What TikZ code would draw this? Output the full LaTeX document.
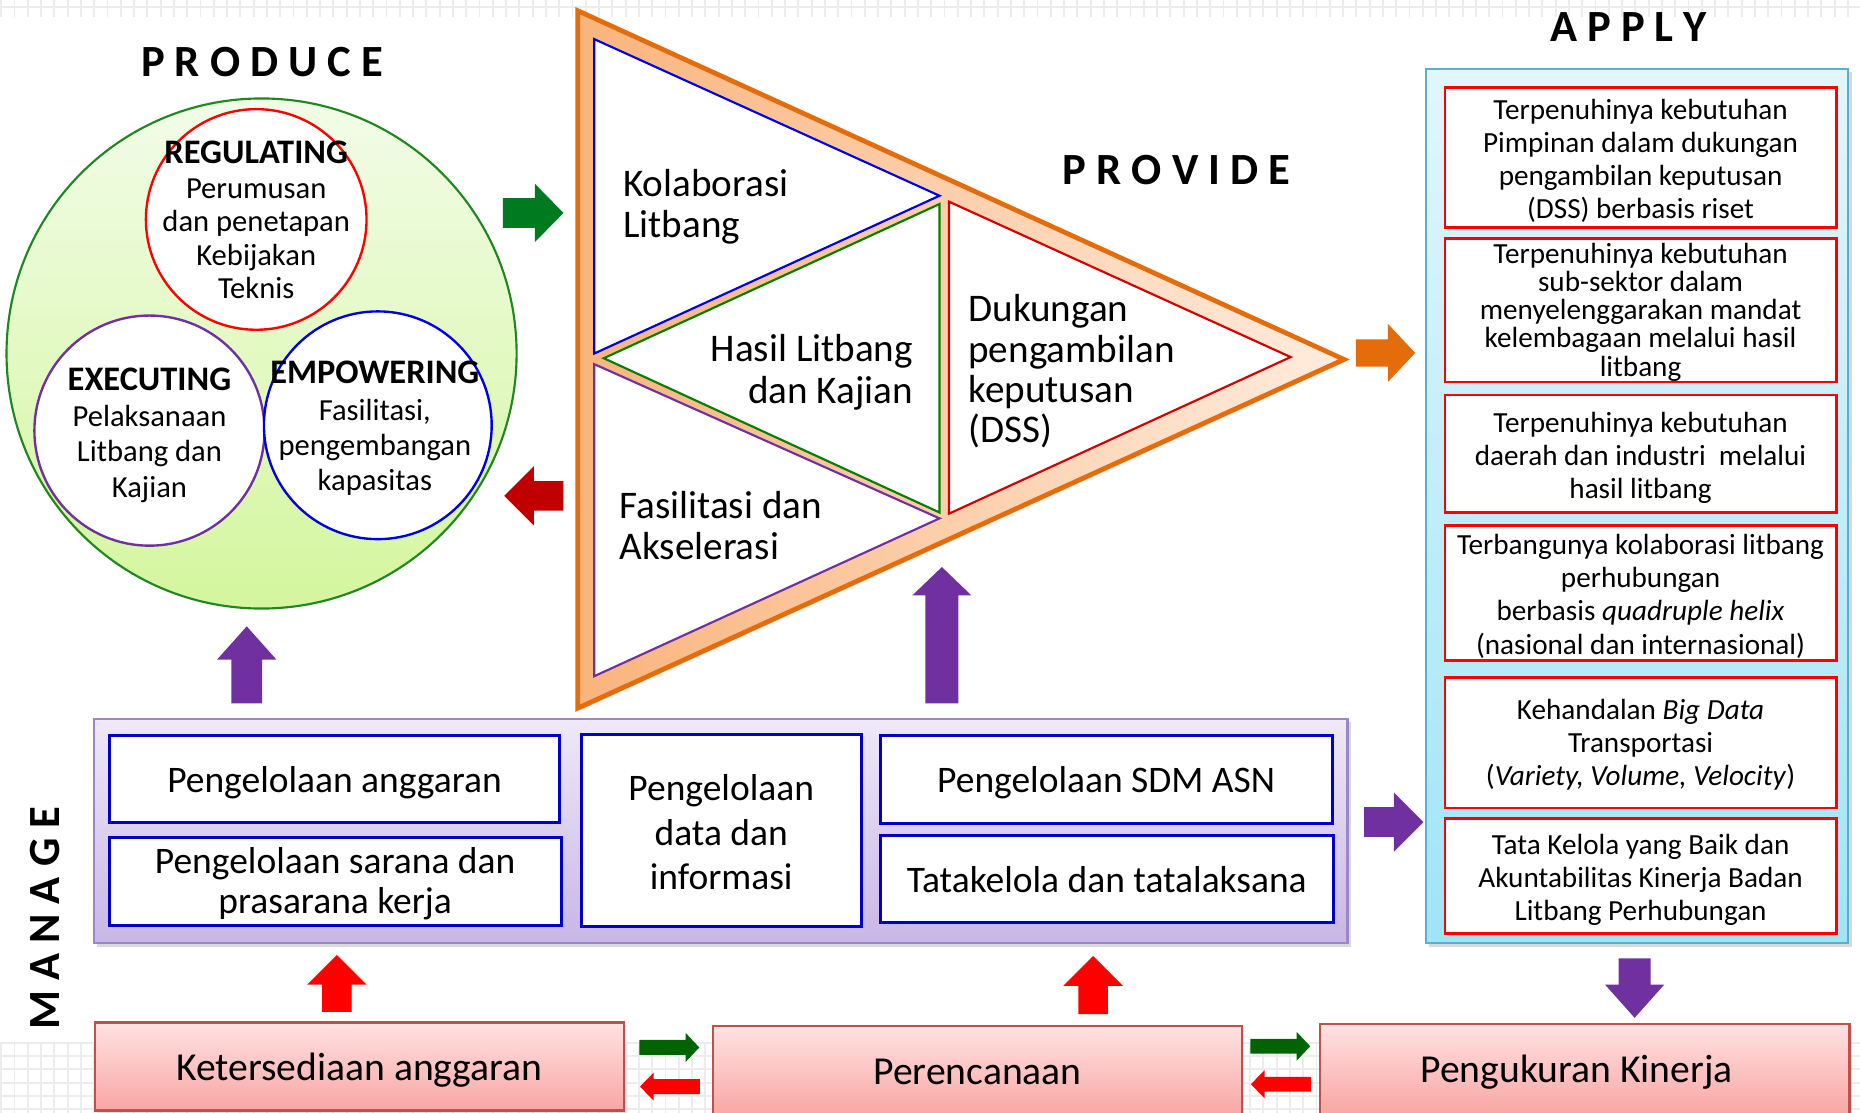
\documentclass[tikz,border=0pt]{standalone}
\usepackage{fontspec}
\setmainfont{Carlito}
\usetikzlibrary{shadows,calc}
\definecolor{cgreen}{RGB}{0,122,30}
\definecolor{dkgreen}{RGB}{0,100,0}
\definecolor{dkred}{RGB}{192,0,0}
\definecolor{orng}{RGB}{228,108,10}
\definecolor{purp}{RGB}{112,48,160}
\definecolor{circgreen}{RGB}{30,135,30}
\definecolor{circtop}{RGB}{242,252,232}
\definecolor{circbot}{RGB}{212,246,158}
\definecolor{gridc}{RGB}{236,236,236}
\definecolor{trileft}{RGB}{249,180,124}
\definecolor{triright}{RGB}{255,236,222}
\definecolor{tblue}{RGB}{0,0,225}
\definecolor{tgreen}{RGB}{0,128,0}
\definecolor{tred}{RGB}{210,0,0}
\definecolor{applytop}{RGB}{226,246,252}
\definecolor{applybot}{RGB}{160,228,247}
\definecolor{applyborder}{RGB}{90,175,205}
\definecolor{mantop}{RGB}{239,233,248}
\definecolor{manbot}{RGB}{200,182,230}
\definecolor{manborder}{RGB}{155,135,196}
\definecolor{pinktop}{RGB}{255,226,226}
\definecolor{pinkbot}{RGB}{248,166,164}
\definecolor{pinkborder}{RGB}{192,80,77}
\definecolor{boxblue}{RGB}{0,0,204}
\newcommand{\BArrow}[8]{\fill[#1, shift={(#2,#3)}, rotate=#4] (0,-#6) -- ({#5-#8},-#6) -- ({#5-#8},-#7) -- (#5,0) -- ({#5-#8},#7) -- ({#5-#8},#6) -- (0,#6) -- cycle;}
\newcommand{\circheadfont}{\fontsize{14.5}{15}\selectfont\bfseries}
\tikzset{
  hdr/.style={font=\fontsize{18.8}{20}\selectfont\bfseries, inner sep=0pt},
  circtext/.style={inner sep=0pt, align=center, font=\fontsize{12.9}{14}\selectfont},
  tritext/.style={inner sep=0pt, font=\fontsize{16.5}{17.5}\selectfont},
  redbox/.style={draw=red, line width=1.1pt, fill=white, minimum width=165pt, inner sep=0pt},
  redtext/.style={inner sep=0pt, align=center, font=\fontsize{12.3}{14}\selectfont},
  bluebox/.style={draw=boxblue, line width=1.3pt, fill=white, inner sep=0pt},
  bluetext/.style={inner sep=0pt, align=center, font=\fontsize{15.8}{17}\selectfont},
  pinkbox/.style={draw=pinkborder, line width=1pt, top color=pinktop, bottom color=pinkbot, inner sep=0pt, minimum width=223pt, drop shadow={shadow xshift=1pt, shadow yshift=-1pt, opacity=0.25}},
  pinktext/.style={inner sep=0pt, font=\fontsize{16.7}{18}\selectfont},
}
\begin{document}
\begin{tikzpicture}[x=0.5pt,y=-0.5pt]
\useasboundingbox (0,0) rectangle (1568,938);
% background grid
\foreach \i in {0,...,140} {\draw[gridc, line width=0.8pt] ({\i*11.2+1},0) -- ({\i*11.2+1},14);}
\draw[gridc, line width=0.8pt] (0,6) -- (1568,6);
\foreach \i in {0,...,140} {\draw[gridc, line width=0.8pt] ({\i*11.2+1},878) -- ({\i*11.2+1},938);}
\foreach \j in {0,...,5} {\draw[gridc, line width=0.8pt] (0,{879+\j*11.2}) -- (1568,{879+\j*11.2});}

% headers
\node[hdr] (hproduce) at (221,52) {P R O D U C E};
\node[hdr] (hprovide) at (992,143) {P R O V I D E};
\node[hdr] (happly) at (1373,23) {A P P L Y};
\node[hdr, rotate=90] (hmanage) at (38,774) {M A N A G E};

% PRODUCE circles
\node[circle, minimum size=215pt, inner sep=0pt, draw=circgreen, line width=0.9pt, top color=circtop, bottom color=circbot] (produce) at (220.5,298) {};
\node[circle, minimum size=93pt, inner sep=0pt, draw=red, line width=1pt, fill=white] (reg) at (216,185) {};
\node[circle, minimum size=97pt, inner sep=0pt, draw=purp, line width=1pt, fill=white] (exe) at (126,363) {};
\node[circle, minimum size=96pt, inner sep=0pt, draw=tblue, line width=1pt, fill=white] (emp) at (318.5,358.5) {};
\node[circtext] (regt) at (216,185) {{\circheadfont REGULATING}\\[1pt]Perumusan\\dan penetapan\\Kebijakan\\Teknis};
\node[circtext, font=\fontsize{12.9}{15}\selectfont] (exet) at (126,367) {{\circheadfont EXECUTING}\\Pelaksanaan\\Litbang dan\\Kajian};
\node[circtext, font=\fontsize{12.9}{14.6}\selectfont] (empt) at (316,361) {{\circheadfont EMPOWERING}\\[1pt]Fasilitasi,\\pengembangan\\kapasitas};

% PROVIDE triangle
\path[draw=orng, line width=2pt, left color=trileft, right color=triright, line join=miter, drop shadow={shadow xshift=1pt, shadow yshift=-1pt, opacity=0.2}] (487,9) coordinate (tA) -- (1133,303) coordinate (tTip) -- (487,597) coordinate (tB) -- cycle;
\draw[tblue, line width=0.9pt, fill=white] (501,33) -- (792,165) -- (501,298) -- cycle;
\draw[tgreen, line width=0.9pt, fill=white] (509,302) -- (792,172) -- (792,432) -- cycle;
\draw[purp, line width=0.9pt, fill=white] (501,307) -- (792,437) -- (501,570) -- cycle;
\draw[tred, line width=0.9pt, fill=white] (800,170) -- (1088,301) -- (800,433) -- cycle;
\node[tritext, anchor=west, align=left] (kol) at (525,174.5) {Kolaborasi\\Litbang};
\node[tritext, anchor=east, align=right] (hasil) at (770,314) {Hasil Litbang\\dan Kajian};
\node[tritext, anchor=west, align=left] (fas) at (522,443) {Fasilitasi dan\\Akselerasi};
\node[tritext, anchor=west, align=left, font=\fontsize{16.5}{17}\selectfont] (dss) at (816,313) {Dukungan\\pengambilan\\keputusan\\(DSS)};

% APPLY box
\node[draw=applyborder, line width=0.9pt, top color=applytop, bottom color=applybot, minimum width=178pt, minimum height=368.5pt, inner sep=0pt, drop shadow={shadow xshift=1.5pt, shadow yshift=-1.5pt, opacity=0.3}] (apply) at (1380,426.5) {};
\node[redbox, minimum height=59pt] (a1) at (1383,133) {};
\node[redbox, minimum height=60.5pt] (a2) at (1383,261.5) {};
\node[redbox, minimum height=49.5pt] (a3) at (1383,382.5) {};
\node[redbox, minimum height=57pt] (a4) at (1383,500) {};
\node[redbox, minimum height=55pt] (a5) at (1383,626) {};
\node[redbox, minimum height=48.5pt] (a6) at (1383,738.5) {};
\node[redtext] (a1t) at ($(a1.center)+(0,2.5)$) {Terpenuhinya kebutuhan\\Pimpinan dalam dukungan\\pengambilan keputusan\\(DSS) berbasis riset};
\node[redtext, font=\fontsize{12.3}{11.9}\selectfont] (a2t) at ($(a2.center)+(0,1.5)$) {Terpenuhinya kebutuhan\\sub-sektor dalam\\menyelenggarakan mandat\\kelembagaan melalui hasil\\litbang};
\node[redtext] (a3t) at ($(a3.center)+(0,3.5)$) {Terpenuhinya kebutuhan\\daerah dan industri\ \ melalui\\hasil litbang};
\node[redtext] (a4t) at ($(a4.center)+(0,2.5)$) {Terbangunya kolaborasi litbang\\perhubungan\\berbasis \textit{quadruple helix}\\(nasional dan internasional)};
\node[redtext] (a5t) at ($(a5.center)+(0,2)$) {Kehandalan \textit{Big Data}\\Transportasi\\(\textit{Variety, Volume, Velocity})};
\node[redtext] (a6t) at ($(a6.center)+(0,3)$) {Tata Kelola yang Baik dan\\Akuntabilitas Kinerja Badan\\Litbang Perhubungan};

% MANAGE box
\node[draw=manborder, line width=1pt, top color=mantop, bottom color=manbot, minimum width=528.5pt, minimum height=94.5pt, inner sep=0pt, drop shadow={shadow xshift=1.5pt, shadow yshift=-1.5pt, opacity=0.3}] (manage) at (607.5,700.5) {};
\node[bluebox, minimum width=190pt, minimum height=36.5pt] (pa) at (282,656.5) {};
\node[bluebox, minimum width=190.5pt, minimum height=37pt] (ps) at (282.5,743) {};
\node[bluebox, minimum width=118pt, minimum height=81pt] (pd) at (608,700) {};
\node[bluebox, minimum width=190.5pt, minimum height=37pt] (psdm) at (932.5,657) {};
\node[bluebox, minimum width=191pt, minimum height=37pt] (ptata) at (933,741) {};
\node[bluetext] (pat) at ($(pa.center)+(0,3)$) {Pengelolaan anggaran};
\node[bluetext] (pst) at ($(ps.center)+(0,2)$) {Pengelolaan sarana dan\\prasarana kerja};
\node[bluetext, font=\fontsize{15.8}{18.7}\selectfont] (pdt) at ($(pd.center)+(0,1.5)$) {Pengelolaan\\data dan\\informasi};
\node[bluetext] (psdmt) at ($(psdm.center)+(0,3)$) {Pengelolaan SDM ASN};
\node[bluetext] (ptatat) at ($(ptata.center)+(0,0.5)$) {Tatakelola dan tatalaksana};

% bottom boxes
\node[pinkbox, minimum height=37pt] (keter) at (303,899) {};
\node[pinkbox, minimum height=38pt] (peren) at (824,903) {};
\node[pinkbox, minimum height=38pt] (pengu) at (1336,901) {};
\node[pinktext] (kett) at ($(keter.center)+(0,3)$) {Ketersediaan anggaran};
\node[pinktext] (perent) at ($(peren.center)+(0,0.5)$) {Perencanaan};
\node[pinktext] (pengut) at ($(pengu.center)+(-7,3)$) {Pengukuran Kinerja};

% block arrows
\BArrow{cgreen}{424}{179.5}{0}{51}{12.5}{24.5}{24}
\BArrow{dkred}{475}{418}{180}{50}{12.5}{25}{25}
\BArrow{orng}{1143}{297.5}{0}{50}{11.5}{24.5}{23}
\BArrow{purp}{794}{593}{90}{115}{14}{25}{24}
\BArrow{purp}{208}{593}{90}{65}{13}{25}{28}
\BArrow{purp}{1150}{693}{0}{50}{12.5}{25}{25}
\BArrow{purp}{1378}{808}{-90}{50}{13.5}{25}{28}
\BArrow{red}{284}{853}{90}{48}{12.5}{25}{25}
\BArrow{red}{921.5}{855}{90}{49}{12.5}{25}{25}
\BArrow{dkgreen}{539}{883}{0}{50.5}{6.3}{12.2}{11.5}
\BArrow{red}{590}{916}{180}{50.5}{6.3}{11.8}{11.5}
\BArrow{dkgreen}{1054}{882}{0}{50.5}{6.3}{12.2}{11.5}
\BArrow{red}{1105}{914}{180}{50.5}{6.3}{11.8}{11.5}
\end{tikzpicture}
\end{document}
